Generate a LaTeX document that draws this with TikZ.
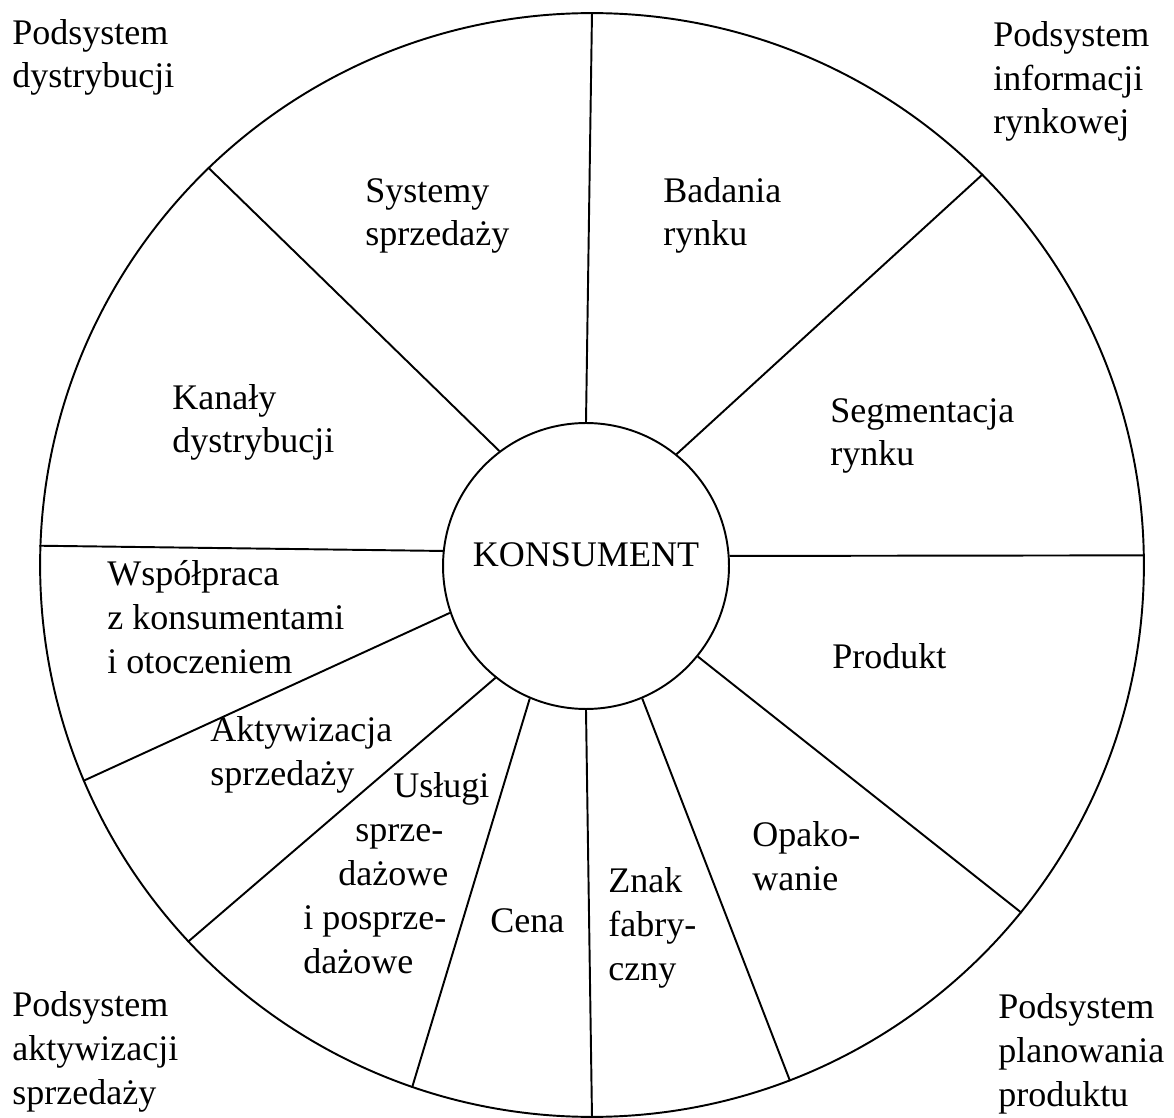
\documentclass[tikz,border=0pt]{standalone}
\usepackage{fontspec}
\setmainfont{Liberation Serif}
\usepackage{tikz}
\newcommand{\wheelfont}{\fontsize{20.5pt}{25pt}\selectfont}
\tikzset{
  rim/.style={
    circle,
    draw,
    line width=1.1pt,
    inner sep=0pt,
    minimum size=22.08cm
  },
  hub/.style={
    circle,
    draw,
    line width=1.1pt,
    fill=white,
    inner sep=0pt,
    minimum size=5.72cm
  },
  spoke/.style={
    line width=1.1pt
  },
  sector/.style={
    align=left,
    anchor=base west,
    inner sep=0pt,
    font=\wheelfont
  }
}

\begin{document}
\begin{tikzpicture}[x=0.02cm, y=-0.02cm]

  \useasboundingbox (0,0) rectangle (1174,1118);

  \node[rim] (rim) at (592,565) {};
  \node[hub] (konsument) at (586,566) {};
  \node[
    font=\wheelfont,
    anchor=base,
    inner sep=0pt
  ] (konsumenttext) at (586,567) {KONSUMENT};

  % spokes: hub angle / rim angle
  \foreach \a/\b in {90/90.9, 51/45.5, 4/1, -39/-39.2, -67/-69.7,
    -90/-90.5, -113/-109.3, -129/-137.1, -161.6/-157.8, 174.8/178.8,
    127/134.9}
    \draw[spoke] (konsument.\a) -- (rim.\b);

  % subsystems in the corners (placed at the baseline of the last line)
  \node[sector] (dystrybucja) at (12,88) {Podsystem\\dystrybucji};
  \node[sector] (informacja) at (993,134) {Podsystem\\informacji\\rynkowej};
  \node[sector] (aktywizacja) at (12,1104) {Podsystem\\aktywizacji\\sprzedaży};
  \node[sector] (planowanie) at (998,1106) {Podsystem\\planowania\\produktu};

  % sectors
  \node[sector] (systemy) at (365,246) {Systemy\\sprzedaży};
  \node[sector] (badania) at (663,246) {Badania\\rynku};
  \node[sector] (kanaly) at (172,453) {Kanały\\dystrybucji};
  \node[sector] (segmentacja) at (830,466) {Segmentacja\\rynku};
  \node[sector] (wspolpraca) at (107,673) {Współpraca\\z konsumentami\\i otoczeniem};
  \node[sector] (produkt) at (832,668) {Produkt};
  \node[sector] (aktywizacjasp) at (210,785) {Aktywizacja\\sprzedaży};
  \node[sector] (uslugi) at (303,973) {%
    \hspace*{1.8cm}Usługi\\
    \hspace*{1.04cm}sprze-\\
    \hspace*{0.7cm}dażowe\\
    i posprze-\\
    dażowe};
  \node[sector] (cena) at (490,932) {Cena};
  \node[sector] (znak) at (608,980) {Znak\\fabry-\\czny};
  \node[sector] (opakowanie) at (752,890) {Opako-\\wanie};

\end{tikzpicture}
\end{document}
